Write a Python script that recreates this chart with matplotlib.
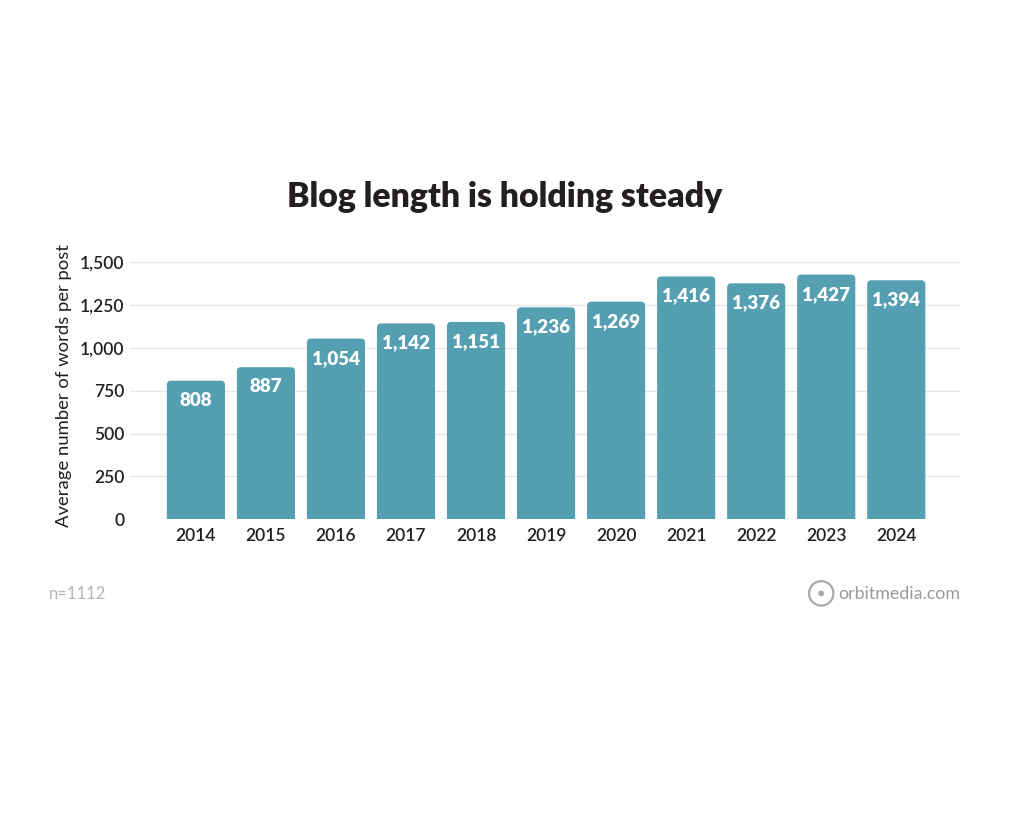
import matplotlib
matplotlib.use('Agg')
import matplotlib.pyplot as plt
from matplotlib.patches import FancyBboxPatch, Circle
import numpy as np

plt.rcParams['font.family'] = ['Lato', 'DejaVu Sans']

years = ['2014', '2015', '2016', '2017', '2018', '2019', '2020', '2021', '2022', '2023', '2024']
words = [808, 887, 1054, 1142, 1151, 1236, 1269, 1416, 1376, 1427, 1394]
yticks = [0, 250, 500, 750, 1000, 1250, 1500]

bar_color = '#559fb3'
text_color = '#231f20'

fig = plt.figure(figsize=(10.24, 8.19), dpi=100)
ax = fig.add_axes([0.127, 0.366, 0.8105, 0.314])

x = np.arange(len(years))
bars = ax.bar(x, words, width=0.83, color=bar_color, zorder=2)

ax.set_xlim(-0.94, len(years) - 0.09)
ax.set_ylim(0, 1500)

# swap plain bars for ones with slightly rounded tops
aspect = (1500 / 257) / (1 / 70)
for bar in bars:
    bx, bw, bh = bar.get_x(), bar.get_width(), bar.get_height()
    bar.set_visible(False)
    ax.add_patch(FancyBboxPatch((bx, -40), bw, bh + 40,
                                boxstyle='round,pad=0,rounding_size=0.06',
                                mutation_aspect=aspect, facecolor=bar_color,
                                edgecolor='none', zorder=2))

for bar, v in zip(bars, words):
    ax.annotate(f'{v:,}', xy=(bar.get_x() + bar.get_width() / 2, v),
                xytext=(0, -8), textcoords='offset points', ha='center', va='top',
                color='white', fontsize=13.5, fontweight='heavy')

ax.set_yticks(yticks)
ax.set_yticklabels([f'{t:,}' for t in yticks])
ax.set_xticks(x)
ax.set_xticklabels(years)
ax.tick_params(axis='both', length=0, labelsize=12.5, colors=text_color)
for lab in ax.get_xticklabels() + ax.get_yticklabels():
    lab.set_fontweight('semibold')
ax.tick_params(axis='y', pad=4)
ax.tick_params(axis='x', pad=6)
ax.yaxis.grid(True, color='#e6e6e6', linewidth=1, zorder=0)
ax.set_axisbelow(True)
for s in ax.spines.values():
    s.set_visible(False)
ax.set_ylabel('Average number of words per post', fontsize=13.3, color=text_color)
ax.yaxis.set_label_coords(-0.07, 0.52)

fig.text(0.493, 0.759, 'Blog length is holding steady', ha='center', va='center',
         fontsize=24.3, fontweight='heavy', color=text_color)
fig.text(0.048, 0.275, 'n=1112', ha='left', va='center', fontsize=12, color='#b5b5b5')
fig.text(0.938, 0.275, 'orbitmedia.com', ha='right', va='center', fontsize=12.8, color='#9a9a9a')

# small orbit logo
logo_ax = fig.add_axes([0.788, 0.258, 0.028, 0.035])
logo_ax.set_xlim(-1, 1)
logo_ax.set_ylim(-1, 1)
logo_ax.set_aspect('equal')
logo_ax.axis('off')
logo_ax.add_patch(Circle((0, 0), 0.85, fill=False, edgecolor='#a8a8a8', linewidth=1.6))
logo_ax.add_patch(Circle((0, 0), 0.2, facecolor='#a8a8a8', edgecolor='none'))

fig.savefig('out.png', dpi=100)
